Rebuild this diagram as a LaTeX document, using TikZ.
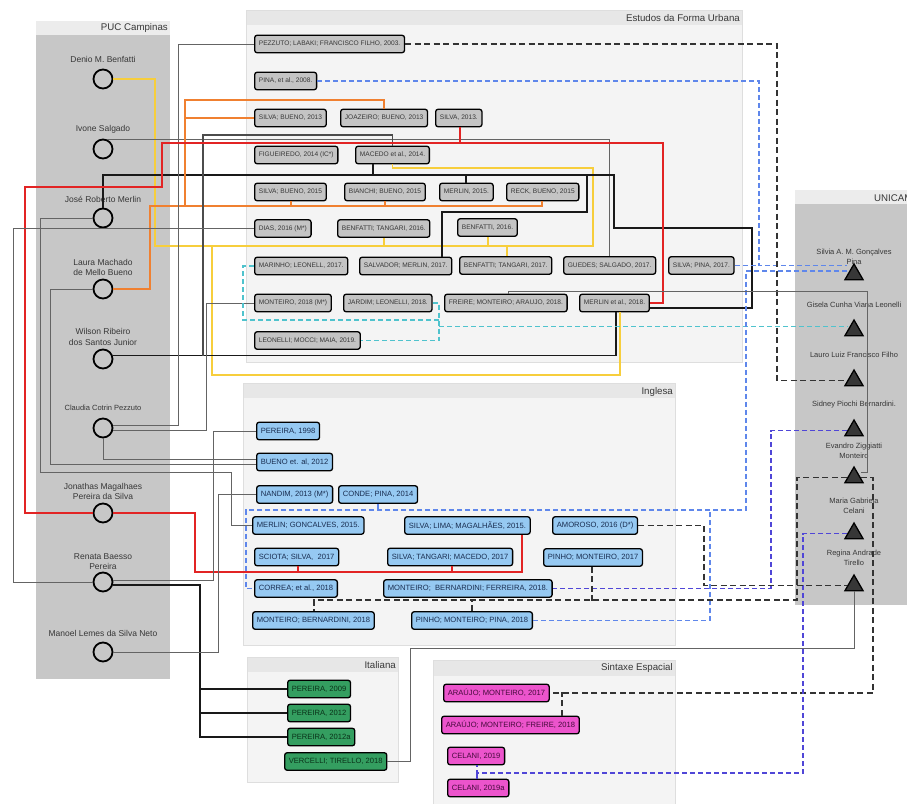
\documentclass[tikz,border=0pt]{standalone}
\usepackage{fontspec}
\setmainfont{Liberation Sans}
\usepackage{xcolor}
\usepackage{tikz}
\usetikzlibrary{shapes.geometric}
\definecolor{pucbody}{RGB}{199,199,199}
\definecolor{puchead}{RGB}{236,236,236}
\definecolor{litebody}{RGB}{244,244,244}
\definecolor{litehead}{RGB}{231,231,231}
\definecolor{panelline}{RGB}{222,222,222}
\definecolor{boxgray}{RGB}{196,196,196}
\definecolor{boxblue}{RGB}{150,201,242}
\definecolor{boxgreen}{RGB}{52,158,96}
\definecolor{boxpink}{RGB}{236,84,204}
\definecolor{txtgray}{RGB}{55,55,55}
\definecolor{txtblue}{RGB}{25,45,80}
\definecolor{txtgreen}{RGB}{10,50,25}
\definecolor{txtpink}{RGB}{70,10,60}
\definecolor{trifill}{RGB}{55,55,55}
\definecolor{lnyellow}{RGB}{247,206,60}
\definecolor{lnorange}{RGB}{240,128,48}
\definecolor{lnred}{RGB}{226,36,36}
\definecolor{lncyan}{RGB}{80,195,205}
\definecolor{lnblue}{RGB}{95,135,235}
\definecolor{lnpurple}{RGB}{80,70,215}
\definecolor{lngray}{RGB}{100,100,100}

\begin{document}
\begin{tikzpicture}[x=1pt, y=-1pt,
    ttl/.style={font=\fontsize{9.7}{11}\selectfont, text=txtgray, anchor=east, inner sep=0pt},
    plab/.style={font=\fontsize{8.5}{10.5}\selectfont, text=txtgray, align=center, inner sep=0pt},
    ulab/.style={font=\fontsize{7.5}{10}\selectfont, text=txtgray, align=center, inner sep=0pt},
    pers/.style={circle, draw=black, line width=1.8pt, minimum size=19pt, inner sep=0pt},
    unic/.style={regular polygon, regular polygon sides=3, draw=black, fill=trifill, line width=1.3pt, minimum size=21pt, inner sep=0pt},
    pbox/.style={draw=black, line width=1.3pt, rounded corners=2.5pt, minimum height=17.5pt, inner xsep=4.2pt, inner ysep=0pt, anchor=west},
    ebox/.style={pbox, fill=boxgray, text=txtgray, font=\fontsize{6.6}{7}\selectfont},
    ibox/.style={pbox, fill=boxblue, text=txtblue, font=\fontsize{7.6}{8}\selectfont},
    tbox/.style={pbox, fill=boxgreen, text=txtgreen, font=\fontsize{7.6}{8}\selectfont},
    sbox/.style={pbox, fill=boxpink, text=txtpink, font=\fontsize{7.6}{8}\selectfont},
    gline/.style={draw=lngray, line width=0.9pt},
    dline/.style={draw=black!70, line width=1.3pt},
    kline/.style={draw=black!90, line width=1.8pt},
    ylw/.style={draw=lnyellow, line width=1.8pt},
    org/.style={draw=lnorange, line width=1.8pt},
    redl/.style={draw=lnred, line width=1.8pt},
    cyd/.style={draw=lncyan, line width=1.1pt, dash pattern=on 5pt off 3pt},
    bld/.style={draw=lnblue, line width=1.2pt, dash pattern=on 5pt off 3pt},
    pud/.style={draw=lnpurple, line width=1.3pt, dash pattern=on 5pt off 3pt},
    kd/.style={draw=black!80, line width=1.5pt, dash pattern=on 6pt off 3.5pt}]
    \clip (0,0) rectangle (907,803);

    % panels
    \fill[pucbody] (36,35) rectangle (170,679);
    \fill[puchead] (36,21) rectangle (170,35);
    \fill[pucbody] (795,204) rectangle (930,605);
    \fill[puchead] (795,190) rectangle (930,204);
    \fill[litebody, draw=panelline] (246,10) rectangle (742,362);
    \fill[litehead] (246.5,10.5) rectangle (741.5,25);
    \fill[litebody, draw=panelline] (243,383) rectangle (675,645);
    \fill[litehead] (243.5,383.5) rectangle (674.5,398);
    \fill[litebody, draw=panelline] (247,657) rectangle (398,782);
    \fill[litehead] (247.5,657.5) rectangle (397.5,672);
    \fill[litebody, draw=panelline] (433,660) rectangle (675,815);
    \fill[litehead] (433.5,660.5) rectangle (674.5,676);

    \node[ttl] (pucT) at (168,28) {PUC Campinas};
    \node[ttl] (efuT) at (740,18) {Estudos da Forma Urbana};
    \node[ttl, anchor=west] (uniT) at (874,198) {UNICAMP};
    \node[ttl] (ingT) at (673,392) {Inglesa};
    \node[ttl] (itaT) at (396,665) {Italiana};
    \node[ttl] (sinT) at (673,668) {Sintaxe Espacial};

    % PUC Campinas
    \node[plab] (denioL) at (103,59) {Denio M. Benfatti};
    \node[pers] (denio) at (103,79) {};
    \node[plab] (ivoneL) at (103,129) {Ivone Salgado};
    \node[pers] (ivone) at (103,149) {};
    \node[plab] (joseL) at (103,199) {José Roberto Merlin};
    \node[pers] (jose) at (103,218) {};
    \node[plab] (lauraL) at (103,267.5) {Laura Machado\\de Mello Bueno};
    \node[pers] (laura) at (103,289) {};
    \node[plab] (wilsonL) at (103,337) {Wilson Ribeiro\\dos Santos Junior};
    \node[pers] (wilson) at (103,359) {};
    \node[plab, font=\fontsize{7.5}{9}\selectfont] (claudiaL) at (103,408) {Claudia Cotrin Pezzuto};
    \node[pers] (claudia) at (103,428) {};
    \node[plab] (jonathasL) at (103,491.5) {Jonathas Magalhaes\\Pereira da Silva};
    \node[pers] (jonathas) at (103,513) {};
    \node[plab] (renataL) at (103,561.5) {Renata Baesso\\Pereira};
    \node[pers] (renata) at (103,582) {};
    \node[plab] (manoelL) at (103,633) {Manoel Lemes da Silva Neto};
    \node[pers] (manoel) at (103,652) {};

    % UNICAMP
    \node[ulab] (silviaL) at (854,257) {Silvia A. M. Gonçalves\\Pina};
    \node[unic] (silvia) at (854,274.5) {};
    \node[ulab] (giselaL) at (854,305) {Gisela Cunha Viana Leonelli};
    \node[unic] (gisela) at (854,330.5) {};
    \node[ulab] (lauroL) at (854,355) {Lauro Luiz Francisco Filho};
    \node[unic] (lauro) at (854,380.5) {};
    \node[ulab] (sidneyL) at (854,405) {Sidney Piochi Bernardini.};
    \node[unic] (sidney) at (854,430.5) {};
    \node[ulab] (evandroL) at (854,450.5) {Evandro Ziggiatti\\Monteiro};
    \node[unic] (evandro) at (854,477.5) {};
    \node[ulab] (mariaL) at (854,505.5) {Maria Gabriela\\Celani};
    \node[unic] (maria) at (854,533.5) {};
    \node[ulab] (reginaL) at (854,557.5) {Regina Andrade\\Tirello};
    \node[unic] (regina) at (854,585.5) {};

    % Estudos da Forma Urbana
    \node[ebox] (e03) at (254,44) {PEZZUTO; LABAKI; FRANCISCO FILHO, 2003.};
    \node[ebox] (e08) at (254,81) {PINA, et al., 2008.};
    \node[ebox] (e13a) at (254,118) {SILVA; BUENO, 2013};
    \node[ebox] (e13b) at (340,118) {JOAZEIRO; BUENO, 2013};
    \node[ebox] (e13c) at (435,118) {SILVA, 2013.};
    \node[ebox] (e14a) at (254,155) {FIGUEIREDO, 2014 (IC*)};
    \node[ebox] (e14b) at (355,155) {MACEDO et al., 2014.};
    \node[ebox] (e15a) at (254,192) {SILVA; BUENO, 2015};
    \node[ebox] (e15b) at (344,192) {BIANCHI; BUENO, 2015};
    \node[ebox] (e15c) at (439,192) {MERLIN, 2015.};
    \node[ebox] (e15d) at (506,192) {RECK, BUENO, 2015};
    \node[ebox] (e16a) at (254,228.5) {DIAS, 2016 (M*)};
    \node[ebox] (e16b) at (337,228.5) {BENFATTI; TANGARI, 2016.};
    \node[ebox] (e16c) at (457,227.5) {BENFATTI, 2016.};
    \node[ebox] (e17a) at (254,266) {MARINHO; LEONELL, 2017.};
    \node[ebox] (e17b) at (359,266) {SALVADOR; MERLIN, 2017.};
    \node[ebox] (e17c) at (459,265.5) {BENFATTI; TANGARI, 2017.};
    \node[ebox] (e17d) at (563,265.5) {GUEDES; SALGADO, 2017.};
    \node[ebox] (e17e) at (668,265.5) {SILVA; PINA, 2017.};
    \node[ebox] (e18a) at (254,303) {MONTEIRO, 2018 (M*)};
    \node[ebox] (e18b) at (343,303) {JARDIM; LEONELLI, 2018.};
    \node[ebox] (e18c) at (444,303) {FREIRE; MONTEIRO; ARAUJO, 2018.};
    \node[ebox] (e18d) at (579,303) {MERLIN et al., 2018.};
    \node[ebox] (e19) at (254,340.5) {LEONELLI; MOCCI; MAIA, 2019.};

    % Inglesa
    \node[ibox] (i98) at (256,431) {PEREIRA, 1998};
    \node[ibox] (i12) at (256,462) {BUENO et. al, 2012};
    \node[ibox] (i13) at (256,494.5) {NANDIM, 2013 (M*)};
    \node[ibox] (i14) at (338,494.5) {CONDE; PINA, 2014};
    \node[ibox] (i15a) at (252,525.5) {MERLIN; GONCALVES, 2015.};
    \node[ibox] (i15b) at (404,525.5) {SILVA; LIMA; MAGALHÃES, 2015.};
    \node[ibox] (i16) at (552,525.5) {AMOROSO, 2016 (D*)};
    \node[ibox] (i17a) at (254,557) {SCIOTA; SILVA,~ 2017};
    \node[ibox] (i17b) at (387,557) {SILVA; TANGARI; MACEDO, 2017};
    \node[ibox] (i17c) at (543,557.5) {PINHO; MONTEIRO, 2017};
    \node[ibox] (i18a) at (254,588.5) {CORREA; et al., 2018};
    \node[ibox] (i18b) at (383,588.5) {MONTEIRO;~ BERNARDINI; FERREIRA, 2018.};
    \node[ibox] (i18c) at (252,620.5) {MONTEIRO; BERNARDINI, 2018};
    \node[ibox] (i18d) at (411,620.5) {PINHO; MONTEIRO; PINA, 2018};

    % Italiana
    \node[tbox] (t09) at (287,689) {PEREIRA, 2009};
    \node[tbox] (t12) at (287,713) {PEREIRA, 2012};
    \node[tbox] (t12a) at (287,737) {PEREIRA, 2012a};
    \node[tbox] (t18) at (284,761.5) {VERCELLI; TIRELLO, 2018};

    % Sintaxe Espacial
    \node[sbox] (s17) at (443,693) {ARAÚJO; MONTEIRO, 2017};
    \node[sbox] (s18) at (441,725) {ARAÚJO; MONTEIRO; FREIRE, 2018};
    \node[sbox] (s19) at (447,756) {CELANI, 2019};
    \node[sbox] (s19a) at (447,788) {CELANI, 2019a};

    % Denio
    \draw[ylw] (denio.east) -| (155,246) -- (212,246) -- (212,375) -| ([xshift=41pt]e18d.south west);
    \draw[ylw] (e14b.south) |- (593,168) |- (212,246);
    \draw[ylw] ([xshift=47pt]e16b.south west) -- ++(0,8.75);
    \draw[ylw] ([xshift=31pt]e16c.south west) -- ++(0,9.75);
    \draw[ylw] ([xshift=48pt]e17c.north west) -- ++(0,-10.75);

    % Ivone
    \draw[gline] (ivone.70) -| ([xshift=46pt]e17d.north west);

    % Jose
    \draw[kline] (jose.north) |- (614,175) |- (752,228) |- ([yshift=-5pt]e18d.east);
    \draw[kline] ([xshift=18pt]e14b.south west) -- ++(0,11.25);
    \draw[kline] ([xshift=27pt]e15c.north west) -- ++(0,-8.25);
    \draw[kline] ([xshift=83pt]e17b.north west) |- (587,212) -- (587,175);
    \draw[gline] (jose.west) -| (40,472) -- (231,472) |- (i15a.west);

    % Laura
    \draw[org] (laura.east) -| (150,206) -| ([xshift=36pt]e15d.south west);
    \draw[org] (185,206) -- (185,100) -| ([xshift=44pt]e13b.north west);
    \draw[org] (185,118) -- (e13a.west);
    \draw[org] ([xshift=37pt]e15a.south west) -- ++(0,5.25);
    \draw[org] ([xshift=41pt]e15b.south west) -- ++(0,5.25);
    \draw[gline] (laura.west) -| (50,464) -- ([yshift=-2pt]i12.west);

    % Wilson
    \draw[kline] (wilson.20) -| ([xshift=37pt]e18d.south west);
    \draw[dline] (e14b.north) |- (203,135) -- (203,356);

    % Claudia
    \draw[gline] (claudia.15) -| (178,44) -- (e03.west);
    \draw[gline] (claudia.-12) -| (206,303) -- (e18a.west);
    \draw[gline] (claudia.south) |- ([yshift=3pt]i12.west);

    % Jonathas
    \draw[redl] (jonathas.west) -| (25,187) -| (162,143) -| (663,303) -- (e18d.east);
    \draw[redl] ([xshift=25pt]e13c.south west) -- ++(0,16.25);
    \draw[redl] (jonathas.east) -| (195,572) -| ([xshift=118pt]i15b.south west);
    \draw[redl] ([xshift=44pt]i17a.south west) -- ++(0,6.25);
    \draw[redl] ([xshift=65pt]i17b.south west) -- ++(0,6.25);

    % Renata
    \draw[gline] (renata.west) -| (13,228.5) -- (e16a.west);
    \draw[gline] (renata.10) -| (213,431) -- (i98.west);
    \draw[kline] (renata.-15) -| (200,737) -- (t12a.west);
    \draw[kline] (200,689) -- (t09.west);
    \draw[kline] (200,713) -- (t12.west);

    % Manoel
    \draw[gline] (manoel.east) -| (218,494.5) -- (i13.west);

    % Gisela
    \draw[cyd] (e17a.west) -| (243,320) -- (439,320);
    \draw[cyd] (e18b.east) -| (439,340.5) -- (e19.east);
    \draw[cyd] (439,326.5) -- ([yshift=4pt]gisela.west);

    % Silvia
    \draw[bld] (e08.east) -| (759,265.5) -- ([yshift=9pt]silvia.west);
    \draw[bld] (e17e.east) -- (759,265.5);
    \draw[bld] ([yshift=3.5pt]silvia.west) -| (746,510) -| (246,588.5) -- (i18a.west);
    \draw[bld] ([xshift=40pt]i14.south west) -- ++(0,6.75);
    \draw[bld] (i18d.east) -| (710,510);

    % Lauro
    \draw[kd] (e03.east) -| (777,380.5) -- (lauro.west);

    % Sidney
    \draw[pud] (sidney.west) -| (771,588.5) -- (i18b.east);

    % Evandro
    \draw[kd] (evandro.west) -| (797,600) -| ([xshift=62pt]i18c.north west);
    \draw[kd] ([xshift=61pt]i18d.north west) -- ++(0,-11.75);
    \draw[kd] ([xshift=49pt]i17c.south west) -- ++(0,33.75);
    \draw[kd] (evandro.east) -| (873,693) -- (s17.east);
    \draw[kd] ([xshift=121pt]s18.north west) -- ++(0,-23.25);
    \draw[gline] ([xshift=64pt]e18c.north west) |- (867,291) |- ([yshift=5pt]evandro.east);

    % Maria
    \draw[pud] (maria.west) -| (803,773) -| ([xshift=30pt]s19.south west);
    \draw[pud] ([xshift=30pt]s19a.north west) -- ++(0,-6.25);

    % Regina
    \draw[kd] (i16.east) -| (704,585.5) -- (regina.west);
    \draw[gline] (regina.south) |- (410,648) |- (t18.east);
\end{tikzpicture}
\end{document}
